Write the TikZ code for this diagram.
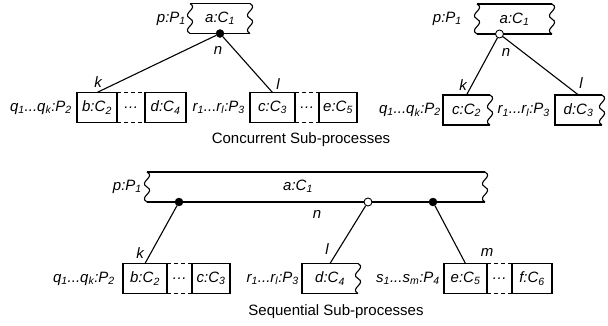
\documentclass[tikz,border=0pt]{standalone}
\usepackage{fontspec}
\setmainfont{Liberation Sans}
\usetikzlibrary{positioning,calc}
\newcommand{\lbfont}{\fontsize{15}{17}\selectfont\itshape}
\newcommand{\capfont}{\fontsize{15}{17}\selectfont}
\newcommand{\lo}[1]{\textsubscript{#1}}
\tikzset{
  cell/.style   ={draw,rectangle,line width=1.1pt,outer sep=0pt,inner sep=0pt,
                  minimum height=30pt,font=\lbfont},
  gap/.style    ={rectangle,outer sep=0pt,inner sep=0pt,minimum height=30pt,font=\lbfont},
  role/.style   ={inner sep=1pt,font=\lbfont},
  fulldot/.style={circle,draw,fill=black,inner sep=0pt,minimum size=8pt},
  opendot/.style={circle,draw,fill=white,line width=0.9pt,inner sep=0pt,minimum size=8pt},
  link/.style   ={line width=1.1pt},
  dashlink/.style={line width=1.1pt,dash pattern=on 4pt off 3pt},
  wave/.style   ={to path={
    .. controls ($(\tikztostart)!.17!(\tikztotarget)+(9pt,0)$) and ($(\tikztostart)!.33!(\tikztotarget)+(-9pt,0)$)
    .. ($(\tikztostart)!.5!(\tikztotarget)$)
    .. controls ($(\tikztostart)!.67!(\tikztotarget)+(9pt,0)$) and ($(\tikztostart)!.83!(\tikztotarget)+(-9pt,0)$)
    .. (\tikztotarget)}},
}
\begin{document}
\begin{tikzpicture}[x=1pt,y=-1pt]
  \useasboundingbox (0,0) rectangle (608,325);
  % concurrent, left
  \node[gap,minimum width=60pt] (a1) at (220,18.5) {a:C\lo{1}};
  \draw[link] (a1.north west) -- (a1.north east) (a1.south west) -- (a1.south east);
  \draw[link] (a1.north west) to[wave] (a1.south west) (a1.north east) to[wave] (a1.south east);
  \node[role,left=3pt of a1] (p1) {p:P\lo{1}};
  \node[fulldot] (s1) at (a1.south) {};
  \node[role] (n1) at (218,50) {n};
  \node[cell,minimum width=40pt] (b1) at (97,107.5) {b:C\lo{2}};
  \node[gap,minimum width=28pt,right=0pt of b1] (g1) {\dots};
  \node[cell,minimum width=41pt,right=0pt of g1] (d1) {d:C\lo{4}};
  \node[role,left=4pt of b1] (q1) {q\lo{1}...q\lo{k}:P\lo{2}};
  \node[cell,minimum width=45pt] (c1) at (272.5,107.5) {c:C\lo{3}};
  \node[gap,minimum width=24pt,right=0pt of c1] (g2) {\dots};
  \node[cell,minimum width=38pt,right=0pt of g2] (e1) {e:C\lo{5}};
  \node[role,left=4pt of c1] (r1) {r\lo{1}...r\lo{l}:P\lo{3}};
  \node[role] (k1) at (98,82) {k};
  \node[role] (l1) at (278,84) {l};
  \draw[link] (s1) -- (b1.north);
  \draw[link] (s1) -- (c1.north);

  % concurrent, right
  \node[gap,minimum width=75pt] (a2) at (514.5,19) {a:C\lo{1}};
  \draw[link] (a2.north west) -- (a2.north east) (a2.south west) -- (a2.south east);
  \draw[link] (a2.north west) to[wave] (a2.south west) (a2.north east) to[wave] (a2.south east);
  \node[role,left=14pt of a2] (p2) {p:P\lo{1}};
  \node[opendot] (s2) at ($(a2.south west)!0.3!(a2.south east)$) {};
  \node[role] (n2) at (506,52) {n};
  \node[gap,minimum width=47pt] (c2) at (466.5,110) {c:C\lo{2}};
  \node[gap,minimum width=47pt] (d2) at (578.5,110) {d:C\lo{3}};
  \foreach \x in {c2,d2}{
    \draw[link] (\x.north east) -- (\x.north west) -- (\x.south west) -- (\x.south east);
    \draw[link] (\x.north east) to[wave] (\x.south east);}
  \node[role,left=1pt of c2] (q2) {q\lo{1}...q\lo{k}:P\lo{2}};
  \node[role,left=4pt of d2] (r2) {r\lo{1}...r\lo{l}:P\lo{3}};
  \node[role] (k2) at (463,85) {k};
  \node[role] (l2) at (581,83) {l};
  \draw[link] (s2) -- (c2.north);
  \draw[link] (s2) -- (d2.north);

  \node[font=\capfont] (cap1) at (301,140) {Concurrent Sub-processes};

  % sequential
  \node[gap,minimum width=338pt] (a3) at (316,187) {};
  \draw[link] (a3.north west) -- (a3.north east) (a3.south west) -- (a3.south east);
  \draw[link] (a3.north west) to[wave] (a3.south west) (a3.north east) to[wave] (a3.south east);
  \node[role] (a3t) at (298,186) {a:C\lo{1}};
  \node[role,left=4pt of a3] (p3) {p:P\lo{1}};
  \node[fulldot] (s3) at (179,202) {};
  \node[opendot] (s4) at (368,202) {};
  \node[fulldot] (s5) at (433,202) {};
  \node[role] (n3) at (317,214) {n};
  \node[cell,minimum width=44pt] (b3) at (145,278.5) {b:C\lo{2}};
  \node[gap,minimum width=25pt,right=0pt of b3] (g3) {\dots};
  \node[cell,minimum width=38pt,right=0pt of g3] (c3) {c:C\lo{3}};
  \node[role,left=7pt of b3] (q3) {q\lo{1}...q\lo{k}:P\lo{2}};
  \node[gap,minimum width=56pt] (d3) at (330,278.5) {d:C\lo{4}};
  \draw[link] (d3.north east) -- (d3.north west) -- (d3.south west) -- (d3.south east);
  \draw[link] (d3.north east) to[wave] (d3.south east);
  \node[role,left=2pt of d3] (r3) {r\lo{1}...r\lo{l}:P\lo{3}};
  \node[cell,minimum width=43pt] (e3) at (465.5,278.5) {e:C\lo{5}};
  \node[gap,minimum width=25pt,right=0pt of e3] (g4) {\dots};
  \node[cell,minimum width=40pt,right=0pt of g4] (f3) {f:C\lo{6}};
  \node[role,left=3pt of e3] (s3t) {s\lo{1}...s\lo{m}:P\lo{4}};
  \foreach \g in {g1,g2,g3,g4}{
    \draw[dashlink] (\g.north west) -- (\g.north east) (\g.south west) -- (\g.south east);}
  \node[role] (k3) at (140,253) {k};
  \node[role] (l3) at (327,249) {l};
  \node[role] (m3) at (487,252) {m};
  \draw[link] (s3) -- (b3.north);
  \draw[link] (s4) -- (d3.north);
  \draw[link] (s5) -- (e3.north);

  \node[font=\capfont] (cap2) at (336,312) {Sequential Sub-processes};
\end{tikzpicture}
\end{document}
